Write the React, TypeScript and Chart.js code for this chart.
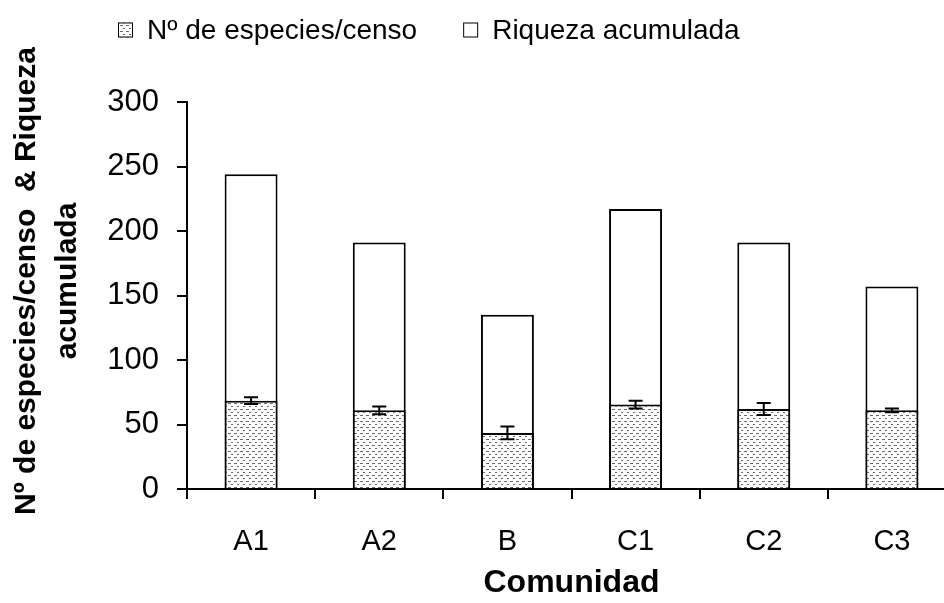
import React, { useEffect, useRef } from "react";
import { Chart, registerables } from "chart.js";

Chart.register(...registerables);

const categories = ["A1", "A2", "B", "C1", "C2", "C3"];
const speciesPerCensus = [68.5, 61, 43.5, 65.5, 62, 61];
const speciesError = [2.7, 3, 4.9, 3, 4.7, 1.5];
const cumulativeRichness = [244, 191, 135, 217, 191, 157];
const yTicks = [0, 50, 100, 150, 200, 250, 300];
const seriesLabels = ["Nº de especies/censo", "Riqueza acumulada"];
const yTitle = ["Nº de especies/censo  & Riqueza", "acumulada"];
const xTitle = "Comunidad";

const FONT = "'Liberation Sans', Arial, sans-serif";

function makePattern(): CanvasPattern | string {
  const c = document.createElement("canvas");
  c.width = 6;
  c.height = 6;
  const g = c.getContext("2d");
  if (!g) return "#ddd";
  g.fillStyle = "#ffffff";
  g.fillRect(0, 0, 6, 6);
  g.fillStyle = "#6a6a6a";
  g.fillRect(0, 1, 3, 1);
  g.fillRect(3, 4, 2, 1);
  const p = g.createPattern(c, "repeat");
  return p || "#ddd";
}

export default function App() {
  const ref = useRef<HTMLCanvasElement>(null);
  useEffect(() => {
    if (!ref.current) return;
    const pattern = makePattern();

    const errorBars = {
      id: "errorBars",
      afterDatasetsDraw(chart: any) {
        const meta = chart.getDatasetMeta(0);
        const ys = chart.scales.y;
        const ctx = chart.ctx;
        ctx.save();
        ctx.strokeStyle = "#000";
        ctx.lineWidth = 2;
        meta.data.forEach((bar: any, i: number) => {
          const v = speciesPerCensus[i];
          const e = speciesError[i];
          const yt = ys.getPixelForValue(v + e);
          const yb = ys.getPixelForValue(v - e);
          const x = bar.x;
          ctx.beginPath();
          ctx.moveTo(x, yt);
          ctx.lineTo(x, yb);
          ctx.moveTo(x - 7, yt);
          ctx.lineTo(x + 7, yt);
          ctx.moveTo(x - 7, yb);
          ctx.lineTo(x + 7, yb);
          ctx.stroke();
        });
        ctx.restore();
      },
    };

    const customLegend = {
      id: "customLegend",
      afterDraw(chart: any) {
        const ctx = chart.ctx;
        ctx.save();
        ctx.font = `28px ${FONT}`;
        ctx.textBaseline = "middle";
        ctx.fillStyle = "#000";
        const cy = 30;
        const box = 15;
        let x = 118;
        const fills = [pattern, "#ffffff"];
        seriesLabels.forEach((label, i) => {
          ctx.fillStyle = fills[i] as any;
          ctx.fillRect(x, cy - box / 2, box, box);
          ctx.strokeStyle = "#000";
          ctx.lineWidth = 1;
          ctx.strokeRect(x + 0.5, cy - box / 2 + 0.5, box - 1, box - 1);
          ctx.fillStyle = "#000";
          const tx = x + box + 14;
          ctx.fillText(label, tx, cy + 1);
          x = tx + ctx.measureText(label).width + 46;
        });
        ctx.restore();
      },
    };

    const yTitlePlugin = {
      id: "yTitlePlugin",
      afterDraw(chart: any) {
        const ctx = chart.ctx;
        ctx.save();
        ctx.font = `bold 30px ${FONT}`;
        ctx.fillStyle = "#000";
        ctx.textAlign = "center";
        ctx.textBaseline = "middle";
        const cy = 281;
        const xs = [27, 68];
        yTitle.forEach((line, i) => {
          ctx.save();
          ctx.translate(xs[i], cy);
          ctx.rotate(-Math.PI / 2);
          ctx.fillText(line, 0, 0);
          ctx.restore();
        });
        ctx.restore();
      },
    };

    const chart = new Chart(ref.current, {
      type: "bar",
      data: {
        labels: categories,
        datasets: [
          {
            label: seriesLabels[0],
            data: speciesPerCensus,
            backgroundColor: pattern as any,
            borderColor: "#000",
            borderWidth: 2,
            grouped: false,
            order: 0,
            categoryPercentage: 1,
            barPercentage: 0.413,
          },
          {
            label: seriesLabels[1],
            data: cumulativeRichness,
            backgroundColor: "#ffffff",
            borderColor: "#000",
            borderWidth: 2,
            grouped: false,
            order: 1,
            categoryPercentage: 1,
            barPercentage: 0.413,
          },
        ],
      },
      options: {
        responsive: false,
        animation: false,
        devicePixelRatio: 1,
        layout: { padding: { top: 102, right: 4, left: 0, bottom: 0 } },
        plugins: {
          legend: { display: false },
          tooltip: { enabled: false },
        },
        scales: {
          x: {
            grid: {
              offset: true,
              drawOnChartArea: false,
              drawTicks: true,
              tickLength: 10,
              color: "#000",
              lineWidth: 2,
            },
            border: { display: true, color: "#000", width: 2 },
            ticks: {
              color: "#000",
              font: { family: FONT, size: 29 },
              padding: 26,
              maxRotation: 0,
            },
            title: {
              display: true,
              text: xTitle,
              color: "#000",
              font: { family: FONT, size: 32, weight: "bold", lineHeight: 1.2 },
              padding: { top: 0, bottom: 1 },
            },
            afterFit(scale: any) {
              scale.height = 114;
            },
          },
          y: {
            min: 0,
            max: 300,
            afterBuildTicks(scale: any) {
              scale.ticks = yTicks.map((v) => ({ value: v }));
            },
            grid: {
              drawOnChartArea: false,
              drawTicks: true,
              tickLength: 10,
              color: "#000",
              lineWidth: 2,
            },
            border: { display: true, color: "#000", width: 2 },
            ticks: {
              color: "#000",
              font: { family: FONT, size: 31 },
              padding: 18,
            },
            title: { display: false },
            afterFit(scale: any) {
              scale.width = 187;
            },
          },
        },
      },
      plugins: [errorBars, customLegend, yTitlePlugin],
    });
    return () => chart.destroy();
  }, []);

  return (
    <div
      style={{
        position: "fixed",
        left: 0,
        top: 0,
        width: 944,
        height: 603,
        overflow: "hidden",
        background: "#fff",
      }}
    >
      <canvas ref={ref} width={960} height={603} style={{ display: "block" }} />
    </div>
  );
}
